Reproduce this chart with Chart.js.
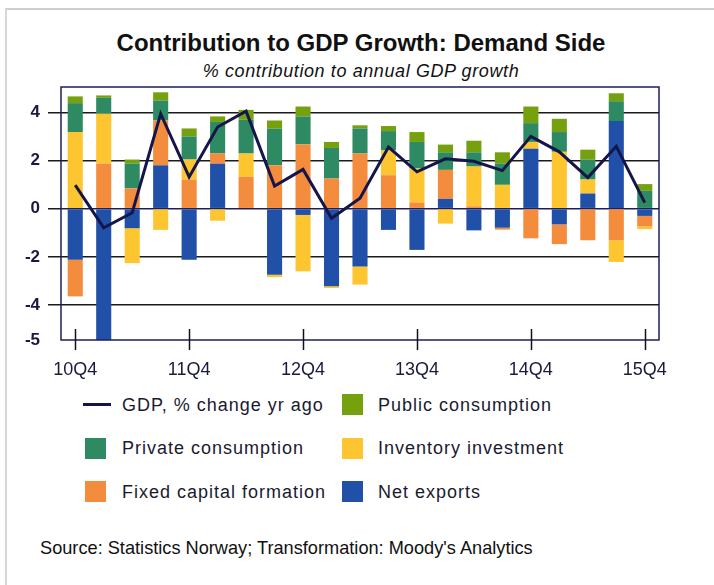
<!DOCTYPE html>
<html>
<head>
<meta charset="utf-8">
<script src="https://cdn.jsdelivr.net/npm/chart.js@4/dist/chart.umd.min.js"></script>
<style>
  html, body { margin: 0; padding: 0; background: #fff; }
  body { width: 714px; height: 585px; position: relative; overflow: hidden; font-family: "Liberation Sans", Arial, sans-serif; color: #111; }
  #frame-top { position: absolute; left: 5px; top: 8px; width: 709px; height: 2px; background: #cfcfcf; }
  #frame-left { position: absolute; left: 5px; top: 8px; width: 2px; height: 577px; background: #d6d6d6; }
  #title { position: absolute; left: 0; width: 722px; top: 29px; text-align: center; font-size: 24px; font-weight: bold; }
  #subtitle { position: absolute; left: 0; width: 722px; top: 61px; text-align: center; font-size: 18px; font-style: italic; letter-spacing: 0.6px; }
  #chart-box { position: absolute; left: 0; top: 80px; width: 714px; height: 310px; }
  .legend-item { position: absolute; font-size: 18px; letter-spacing: 1px; color: #1a1a2e; line-height: 20px; white-space: nowrap; }
  .swatch { position: absolute; width: 21px; height: 21px; }
  .swatch-line { position: absolute; width: 28px; height: 3px; background: #15154a; }
  #source { position: absolute; left: 40px; top: 538px; font-size: 18.2px; color: #111; }
</style>
</head>
<body>
<div id="frame-top"></div>
<div id="frame-left"></div>
<div id="title">Contribution to GDP Growth: Demand Side</div>
<div id="subtitle">% contribution to annual GDP growth</div>
<div id="chart-box"><canvas id="gdpChart"></canvas></div>
<div id="legend"></div>
<div id="source">Source: Statistics Norway; Transformation: Moody's Analytics</div>

<script>
const quarters = ['10Q4', '11Q1', '11Q2', '11Q3', '11Q4', '12Q1', '12Q2', '12Q3', '12Q4', '13Q1', '13Q2',
                  '13Q3', '13Q4', '14Q1', '14Q2', '14Q3', '14Q4', '15Q1', '15Q2', '15Q3', '15Q4'];
const tickLabels = ['10Q4', '11Q4', '12Q4', '13Q4', '14Q4', '15Q4'];
const yTicks = [-5, -4, -2, 0, 2, 4];

// contributions, percentage points
const netExports   = [-2.12, -5.5, -0.81, 1.80, -2.12, 1.87, 0, -2.74, -0.26, -3.22, -2.40, -0.88, -1.71, 0.41, -0.90, -0.79, 2.49, -0.65, 0.63, 3.64, -0.30];
const fixedCapital = [-1.52, 1.87, 0.84, 1.86, 1.21, 0.42, 1.32, 1.80, 2.67, 1.25, 2.29, 1.39, 0.26, 1.20, 0.10, -0.08, -1.23, -0.82, -1.31, -1.31, -0.44];
const inventory    = [3.18, 2.07, -1.45, -0.88, 0.83, -0.50, 0.97, -0.10, -2.34, -0.07, -0.75, 1.03, 1.41, -0.62, 1.65, 0.99, 0.28, 2.36, 0.58, -0.90, -0.11];
const privateCons  = [1.20, 0.66, 1.03, 0.83, 0.96, 1.31, 1.40, 1.52, 1.16, 1.27, 1.04, 0.80, 1.10, 0.73, 0.59, 0.89, 0.78, 0.82, 0.83, 0.82, 0.74];
const publicCons   = [0.28, 0.10, 0.17, 0.34, 0.33, 0.23, 0.41, 0.34, 0.41, 0.25, 0.13, 0.21, 0.41, 0.32, 0.48, 0.46, 0.69, 0.55, 0.41, 0.33, 0.28];
const gdpGrowth    = [0.98, -0.79, -0.17, 3.94, 1.32, 3.39, 4.05, 0.94, 1.63, -0.40, 0.43, 2.56, 1.53, 2.07, 1.97, 1.58, 3.00, 2.36, 1.29, 2.59, 0.25];

const COLORS = {
    gdp: '#15154a',
    publicCons: '#76a10f',
    privateCons: '#2e8a63',
    inventory: '#fdc52f',
    fixedCapital: '#f48c3e',
    netExports: '#2050a8'
};

const Y_MIN = -5.45;
const Y_MAX = 5.05;

// legend, two columns like the original
const legendRows = [
    [{ label: 'GDP, % change yr ago', color: COLORS.gdp, line: true }, { label: 'Public consumption', color: COLORS.publicCons }],
    [{ label: 'Private consumption', color: COLORS.privateCons }, { label: 'Inventory investment', color: COLORS.inventory }],
    [{ label: 'Fixed capital formation', color: COLORS.fixedCapital }, { label: 'Net exports', color: COLORS.netExports }]
];

const legendDiv = document.getElementById('legend');
legendRows.forEach((row, r) => {
    const cy = 404.5 + r * 43.5;
    row.forEach((item, c) => {
        const sx = c === 0 ? 85 : 342;
        const tx = c === 0 ? 122 : 378;
        const sw = document.createElement('div');
        if (item.line) {
            sw.className = 'swatch-line';
            sw.style.left = (sx - 2) + 'px';
            sw.style.top = (cy - 1.5) + 'px';
        } else {
            sw.className = 'swatch';
            sw.style.left = sx + 'px';
            sw.style.top = (cy - 10.5) + 'px';
            sw.style.background = item.color;
        }
        legendDiv.appendChild(sw);
        const txt = document.createElement('div');
        txt.className = 'legend-item';
        txt.style.left = tx + 'px';
        txt.style.top = (cy - 10) + 'px';
        txt.textContent = item.label;
        legendDiv.appendChild(txt);
    });
});

// plot frame + the quarter tick marks crossing the bottom border
const framePlugin = {
    id: 'frame',
    afterDraw(chart) {
        const { ctx, chartArea: a } = chart;
        const x = chart.scales.x;
        ctx.save();
        ctx.strokeStyle = '#1e1e5a';
        ctx.lineWidth = 1.5;
        ctx.strokeRect(a.left, a.top, a.right - a.left, a.bottom - a.top);
        ctx.strokeStyle = '#111';
        ctx.lineWidth = 1.5;
        quarters.forEach((q, i) => {
            if (!tickLabels.includes(q)) return;
            const px = Math.round(x.getPixelForValue(i)) + 0.5;
            ctx.beginPath();
            ctx.moveTo(px, a.bottom - 11);
            ctx.lineTo(px, a.bottom + 10);
            ctx.stroke();
        });
        ctx.restore();
    }
};

function barSet(label, data, color) {
    return {
        type: 'bar',
        label: label,
        data: data,
        backgroundColor: color,
        borderWidth: 0,
        stack: 'parts',
        order: 1,
        barPercentage: 0.53,
        categoryPercentage: 1
    };
}

new Chart(document.getElementById('gdpChart'), {
    data: {
        labels: quarters,
        datasets: [
            {
                type: 'line',
                label: 'GDP, % change yr ago',
                data: gdpGrowth,
                borderColor: COLORS.gdp,
                borderWidth: 3,
                pointRadius: 0,
                tension: 0,
                stack: 'gdp',
                order: 0
            },
            // stacking order from zero outwards
            barSet('Net exports', netExports, COLORS.netExports),
            barSet('Fixed capital formation', fixedCapital, COLORS.fixedCapital),
            barSet('Inventory investment', inventory, COLORS.inventory),
            barSet('Private consumption', privateCons, COLORS.privateCons),
            barSet('Public consumption', publicCons, COLORS.publicCons)
        ]
    },
    options: {
        responsive: true,
        maintainAspectRatio: false,
        animation: false,
        layout: { padding: { top: 7, right: 55, left: 0, bottom: 0 } },
        plugins: {
            legend: { display: false },
            title: { display: false },
            tooltip: { enabled: false }
        },
        scales: {
            x: {
                stacked: true,
                offset: true,
                grid: { display: false, drawTicks: false, tickLength: 0 },
                border: { display: false },
                ticks: {
                    autoSkip: false,
                    maxRotation: 0,
                    padding: 19,
                    color: '#1a1a3e',
                    font: { family: '"Liberation Sans", Arial, sans-serif', size: 18 },
                    callback: function (val, i) {
                        const q = quarters[i];
                        return tickLabels.includes(q) ? q : '';
                    }
                },
                afterFit: (scale) => {
                    scale.height = 50;
                    scale.paddingLeft = 0;
                    scale.paddingRight = 0;
                }
            },
            y: {
                stacked: true,
                min: Y_MIN,
                max: Y_MAX,
                afterBuildTicks: (scale) => {
                    // bottom label "-5" sits on the lower edge of the plot
                    scale.ticks = yTicks.map(v => ({ value: v === -5 ? Y_MIN : v }));
                },
                grid: {
                    color: (c) => {
                        if (c.tick && c.tick.value === 0) return '#1e1e5a';
                        if (c.tick && c.tick.value === Y_MIN) return 'rgba(0,0,0,0)';
                        return '#1b1b1b';
                    },
                    tickColor: (c) => (c.tick && c.tick.value === Y_MIN) ? 'rgba(0,0,0,0)' : '#1b1b1b',
                    lineWidth: 1.5,
                    tickLength: 13
                },
                border: { display: false },
                ticks: {
                    padding: 8,
                    color: '#1a1a3e',
                    font: { family: '"Liberation Sans", Arial, sans-serif', size: 17, weight: 'bold' },
                    callback: (v) => v === Y_MIN ? '-5' : String(v)
                },
                afterFit: (scale) => {
                    scale.width = 61;
                    scale.paddingTop = 0;
                    scale.paddingBottom = 0;
                }
            }
        }
    },
    plugins: [framePlugin]
});
</script>
</body>
</html>
